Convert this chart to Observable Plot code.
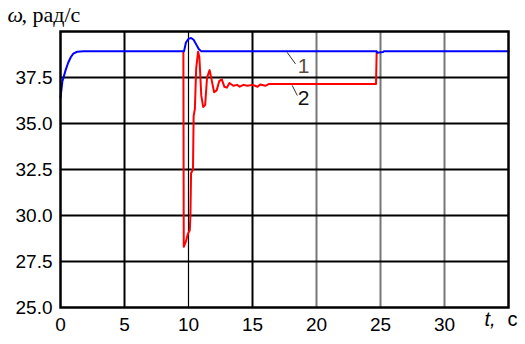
<!DOCTYPE html>
<html><head><meta charset="utf-8">
<script src="https://cdn.jsdelivr.net/npm/d3@7"></script>
<script src="https://cdn.jsdelivr.net/npm/@observablehq/plot@0.6"></script>
<style>
body{margin:0;background:#fff;}
#chart{position:relative;width:525px;height:344px;}
</style>
</head><body><div id="chart"></div>
<script>
// Curve 1 (blue)
const t1 = [0, 0.15, 0.4, 0.6, 0.8, 1.0, 1.3, 1.8, 9.65, 9.8, 10.0, 10.2, 10.4, 10.6, 10.8, 11.0, 24.7, 24.75, 25.2, 25.25, 35];
const w1 = [36.4, 37.3, 37.9, 38.3, 38.6, 38.8, 38.9, 38.92, 38.92, 39.4, 39.6, 39.65, 39.55, 39.3, 39.05, 38.92, 38.92, 38.85, 38.88, 38.92, 38.92];
// Curve 2 (red)
const t2 = [9.6, 9.63, 9.8, 9.95, 10.1, 10.15, 10.2, 10.35, 10.4, 10.5, 10.6, 10.75, 10.85, 11.0, 11.15, 11.3, 11.45, 11.65, 11.8, 12.0, 12.2, 12.4, 12.6, 12.8, 13.0, 13.2, 13.5, 13.8, 14.0, 14.3, 14.6, 15.0, 15.4, 15.6, 16.0, 16.3, 24.65, 24.7];
const w2 = [38.9, 28.3, 28.6, 29.0, 29.2, 30.0, 32.3, 32.5, 35.4, 35.8, 38.0, 38.9, 38.6, 36.5, 35.9, 36.0, 37.5, 37.9, 37.4, 36.7, 36.8, 37.3, 37.4, 37.0, 36.95, 37.2, 37.05, 37.1, 37.0, 37.1, 37.05, 37.1, 37.0, 37.12, 37.05, 37.15, 37.15, 38.9];
// Ticks
const xTicks = [0, 5, 10, 15, 20, 25, 30];
const yTicks = [25, 27.5, 30, 32.5, 35, 37.5];
const gridXDark = [5, 15];
const gridXThin = [10];
const gridXGray = [20, 25, 30];
const gridY = [27.5, 30, 32.5, 35, 37.5];
// Annotations
const labels = [{t: 19.0, w: 38.1, s: "1"}, {t: 19.0, w: 36.36, s: "2"}];
const leaders = [{t0: 17.7, w0: 38.87, t1: 18.36, w1: 38.24}, {t0: 18.1, w0: 37.07, t1: 18.5, w1: 36.52}];

const blue = t1.map((t, i) => ({t, w: w1[i]}));
const red = t2.map((t, i) => ({t, w: w2[i]}));

const serif = "'Liberation Serif', 'Times New Roman', serif";
const plot = Plot.plot({
  width: 525, height: 344,
  marginLeft: 60, marginRight: 17, marginTop: 31, marginBottom: 37,
  style: {fontFamily: "'Liberation Sans', Arial, sans-serif", color: "#000", background: "#fff"},
  x: {domain: [0, 35]},
  y: {domain: [25, 40]},
  marks: [
    Plot.ruleX(gridXGray, {stroke: "#777", strokeWidth: 2}),
    Plot.ruleX(gridXDark, {stroke: "#000", strokeWidth: 2}),
    Plot.ruleX(gridXThin, {stroke: "#000", strokeWidth: 1.2}),
    Plot.ruleY(gridY, {stroke: "#000", strokeWidth: 2.2}),
    Plot.line(red, {x: "t", y: "w", stroke: "#ff0000", strokeWidth: 2}),
    Plot.line(blue, {x: "t", y: "w", stroke: "#0000ff", strokeWidth: 2}),
    Plot.link(leaders, {x1: "t0", y1: "w0", x2: "t1", y2: "w1", stroke: "#333", strokeWidth: 1}),
    Plot.text(labels, {x: "t", y: "w", text: "s", fontSize: 21, fill: (d) => d.s === "1" ? "#5b4b3b" : "#111", textAnchor: "middle"}),
    Plot.frame({stroke: "#000", strokeWidth: 2.5}),
    Plot.axisY(yTicks, {tickSize: 0, tickPadding: 8, fontSize: 19, tickFormat: d => d.toFixed(1)}),
    Plot.axisX(xTicks, {tickSize: 0, tickPadding: 10, fontSize: 19, tickFormat: d => String(d)}),
    Plot.text(["ω"], {frameAnchor: "top-left", dx: -53, dy: -10, lineAnchor: "bottom", textAnchor: "start", fontSize: 22, fontStyle: "italic", fontFamily: serif}),
    Plot.text([", рад/с"], {frameAnchor: "top-left", dx: -39, dy: -10, lineAnchor: "bottom", textAnchor: "start", fontSize: 22, fontFamily: serif}),
    Plot.text(["c"], {frameAnchor: "bottom-right", dx: 9, dy: 18, textAnchor: "end", fontSize: 20}),
    Plot.text(["t,"], {frameAnchor: "bottom-right", dx: -13, dy: 18, textAnchor: "end", fontSize: 20, fontStyle: "italic"})
  ]
});
document.getElementById("chart").appendChild(plot);
</script>
</body></html>
